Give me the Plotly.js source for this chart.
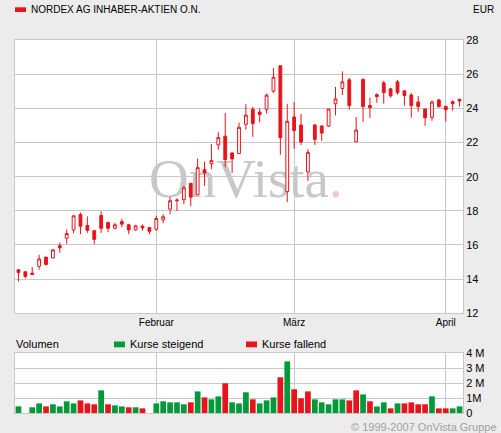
<!DOCTYPE html>
<html><head><meta charset="utf-8">
<script src="https://cdn.plot.ly/plotly-3.0.1.min.js"></script>
<style>html,body{margin:0;padding:0;background:#ececec;overflow:hidden}#chart{width:501px;height:433px}</style>
</head><body><div id="chart"></div>
<script>
// ---- data ----
const dates = [
 '2007-01-04','2007-01-05','2007-01-08','2007-01-09','2007-01-10','2007-01-11','2007-01-12','2007-01-15','2007-01-16','2007-01-17',
 '2007-01-18','2007-01-19','2007-01-22','2007-01-23','2007-01-24','2007-01-25','2007-01-26','2007-01-29','2007-01-30','2007-01-31',
 '2007-02-01','2007-02-02','2007-02-05','2007-02-06','2007-02-07','2007-02-08','2007-02-09','2007-02-12','2007-02-13','2007-02-14',
 '2007-02-15','2007-02-16','2007-02-19','2007-02-20','2007-02-21','2007-02-22','2007-02-23','2007-02-26','2007-02-27','2007-02-28',
 '2007-03-01','2007-03-02','2007-03-05','2007-03-06','2007-03-07','2007-03-08','2007-03-09','2007-03-12','2007-03-13','2007-03-14',
 '2007-03-15','2007-03-16','2007-03-19','2007-03-20','2007-03-21','2007-03-22','2007-03-23','2007-03-26','2007-03-27','2007-03-28',
 '2007-03-29','2007-03-30','2007-04-02','2007-04-03','2007-04-04'];
const open = [
 14.55,14.43,14.35,14.75,15.29,15.24,15.96,16.39,16.88,17.78,
 17.14,16.84,17.73,17.31,16.98,17.37,17.18,16.88,17.10,17.02,
 16.92,17.47,18.10,18.59,18.65,19.61,18.94,20.41,20.75,21.86,
 22.37,21.39,21.35,23.06,23.95,23.78,23.94,25.00,26.49,19.12,
 23.49,23.02,20.28,23.02,22.96,22.96,24.27,25.16,25.67,22.04,
 25.69,24.16,24.80,25.49,25.14,25.55,25.02,24.78,24.37,23.96,
 23.47,24.49,24.12,24.39,24.53];
const high = [
 14.55,14.43,14.71,15.43,15.29,15.76,16.14,16.90,17.73,17.90,
 17.67,16.84,17.96,17.37,17.29,17.53,17.24,17.18,17.20,17.02,
 17.71,17.80,18.82,18.73,19.47,19.61,21.06,20.88,21.90,22.60,
 23.73,21.43,23.16,24.25,24.08,24.00,24.86,26.36,26.49,24.26,
 24.37,23.67,21.61,23.08,23.02,23.96,25.25,26.16,25.77,23.49,
 25.75,24.63,24.88,25.61,25.20,25.67,25.08,24.90,24.73,23.96,
 24.47,24.55,24.12,24.47,24.53];
const low = [
 13.86,14.04,14.27,14.55,14.80,15.24,15.55,16.08,16.69,16.63,
 16.71,16.04,16.71,16.75,16.92,17.04,16.63,16.84,16.84,16.63,
 16.82,17.27,17.80,18.00,18.39,18.27,18.94,19.47,20.45,21.57,
 20.55,20.22,21.35,22.75,22.33,23.18,23.69,24.90,21.28,18.51,
 21.63,21.85,19.75,21.86,22.10,22.90,23.59,24.78,23.92,22.04,
 23.20,23.43,24.33,24.27,24.63,24.80,24.16,23.45,23.80,22.98,
 23.27,24.04,23.22,23.86,24.10];
const close = [
 14.39,14.16,14.27,15.18,14.86,15.71,15.84,16.67,17.71,17.10,
 16.86,16.33,16.98,16.98,17.18,17.22,16.88,17.12,17.00,16.80,
 17.55,17.65,18.59,18.63,19.35,18.80,20.53,20.22,20.94,22.29,
 21.00,21.04,22.89,23.60,23.11,23.64,24.77,25.82,22.28,23.24,
 22.70,22.03,21.42,22.18,22.55,23.96,24.55,25.55,24.16,22.73,
 24.10,24.04,24.69,24.92,24.73,24.92,24.75,24.16,24.10,23.45,
 24.37,24.10,23.92,24.27,24.43];
// volume in millions of shares
const volume = [
 0.44,0,0.38,0.64,0.44,0.58,0.44,0.78,0.64,0.84,
 0.64,0.58,1.51,0.58,0.51,0.44,0.38,0.38,0.31,0,
 0.64,0.78,0.71,0.71,0.58,0.71,1.44,1.04,0.91,1.11,
 1.98,0.71,0.64,1.38,0.91,0.64,0.84,1.04,2.38,3.44,
 1.58,0.98,1.44,0.91,0.71,0.58,0.91,0.91,0.84,1.51,
 1.24,0.78,0.44,0.71,0.31,0.64,0.64,0.71,0.58,0.58,
 1.11,0.31,0.31,0.31,0.44];
// u = Kurse steigend, d = Kurse fallend
const volumeDir = [
 'u','u','u','u','d','u','u','u','u','d',
 'd','d','u','d','u','u','d','u','d','u',
 'u','u','u','u','u','d','u','d','u','u',
 'd','u','u','u','d','u','u','u','d','u',
 'd','d','d','u','u','u','u','u','d','d',
 'u','d','u','u','d','u','d','d','d','d',
 'u','d','d','u','u'];
const monthTicks = ['2007-02-01','2007-03-01','2007-04-02'];
const monthLabels = ['Februar','März','April'];
const priceTicks = [12,14,16,18,20,22,24,26,28];
const volTicks = [0,1,2,3,4];
const volLabels = ['0','1M','2 M','3 M','4 M'];

// ---- styling ----
const RED = '#e8141b', GREEN = '#009a3a', GRID = '#c8c8c8';
const PL = 15, PR = 463, PT = 40, PB = 413;
const px = x => (x - PL) / (PR - PL);
const py = y => (PB - y) / (PB - PT);
const FONT = 'Liberation Sans, Arial, sans-serif';

const data = [
 {type:'candlestick', x:dates, open:open, high:high, low:low, close:close,
  xaxis:'x', yaxis:'y', whiskerwidth:0, hoverinfo:'skip',
  increasing:{line:{color:RED,width:1}, fillcolor:'#ffffff'},
  decreasing:{line:{color:RED,width:1}, fillcolor:RED}},
 {type:'bar', x:dates, y:volume, xaxis:'x2', yaxis:'y2', hoverinfo:'skip',
  marker:{color:volumeDir.map(d => d === 'u' ? GREEN : RED), line:{width:0}}}
];

const axBase = {showgrid:true, gridcolor:GRID, gridwidth:1, showline:true, mirror:true,
  linecolor:GRID, linewidth:1, ticks:'', zeroline:false, fixedrange:true};

const ann = (text, x, y, xanchor, size, color, extra) => Object.assign({
  text:text, x:px(x), y:py(y), xref:'paper', yref:'paper', xanchor:xanchor, yanchor:'middle',
  showarrow:false, borderpad:0, font:{family:FONT, size:size, color:color||'#000'}}, extra||{});
const rect = (x0,x1,y0,y1,color,layer) => ({type:'rect', xref:'paper', yref:'paper',
  x0:px(x0), x1:px(x1), y0:py(y1), y1:py(y0), fillcolor:color, line:{width:0}, layer:layer||'above'});

const layout = {
  width:501, height:433, margin:{l:PL, r:501-PR, t:PT, b:433-PB, pad:0},
  paper_bgcolor:'#ececec', plot_bgcolor:'rgba(0,0,0,0)',
  font:{family:FONT, size:11, color:'#000'},
  showlegend:false, hovermode:false, bargap:0.17, boxgap:0.42,
  xaxis:Object.assign({}, axBase, {type:'category', anchor:'y', domain:[0,1], range:[-0.5,64.5],
    categoryorder:'array', categoryarray:dates, tickvals:monthTicks, ticktext:monthLabels,
    tickfont:{size:10}, rangeslider:{visible:false}}),
  yaxis:Object.assign({}, axBase, {anchor:'x', domain:[py(313.3),1], range:[12,28], side:'right',
    tickvals:priceTicks, tickfont:{size:11}}),
  xaxis2:Object.assign({}, axBase, {type:'category', anchor:'y2', domain:[0,1], range:[-0.5,64.5],
    categoryorder:'array', categoryarray:dates, tickvals:monthTicks, showticklabels:false}),
  yaxis2:Object.assign({}, axBase, {anchor:'x2', domain:[0,py(353)], range:[0,4], side:'right',
    tickvals:volTicks, ticktext:volLabels, tickfont:{size:11}}),
  shapes:[
    rect(PL,PR,PT,313.3,'#ffffff','below'),
    rect(PL,PR,353,PB,'#ffffff','below'),
    rect(15,26,7.3,12,RED),
    rect(114,125,341.5,347.3,GREEN),
    rect(246,257,341.5,347.3,RED)
  ],
  annotations:[
    ann('OnVista<span style="color:#f2c8c8">.</span>', 246, 178, 'center', 55, '#c8c8c8',
        {font:{family:'Liberation Serif, Times New Roman, serif', size:55, color:'#c8c8c8'}}),
    ann('NORDEX AG INHABER-AKTIEN O.N.', 30, 10, 'left', 10),
    ann('EUR', 495, 10, 'right', 10),
    ann('Volumen', 15, 344, 'left', 11),
    ann('Kurse steigend', 129, 344, 'left', 11),
    ann('Kurse fallend', 261, 344, 'left', 11),
    ann('© 1999-2007 OnVista Gruppe', 498, 427, 'right', 11, '#a0a0a0')
  ]
};

Plotly.newPlot('chart', data, layout, {staticPlot:true, displayModeBar:false}).then(gd => {
  // put the watermark behind grid and candles
  const wm = gd.querySelector('.annotation[data-index="0"]');
  const cart = gd.querySelector('.main-svg .cartesianlayer');
  if (wm && cart) cart.parentNode.insertBefore(wm, cart);
});
</script>
</body></html>
